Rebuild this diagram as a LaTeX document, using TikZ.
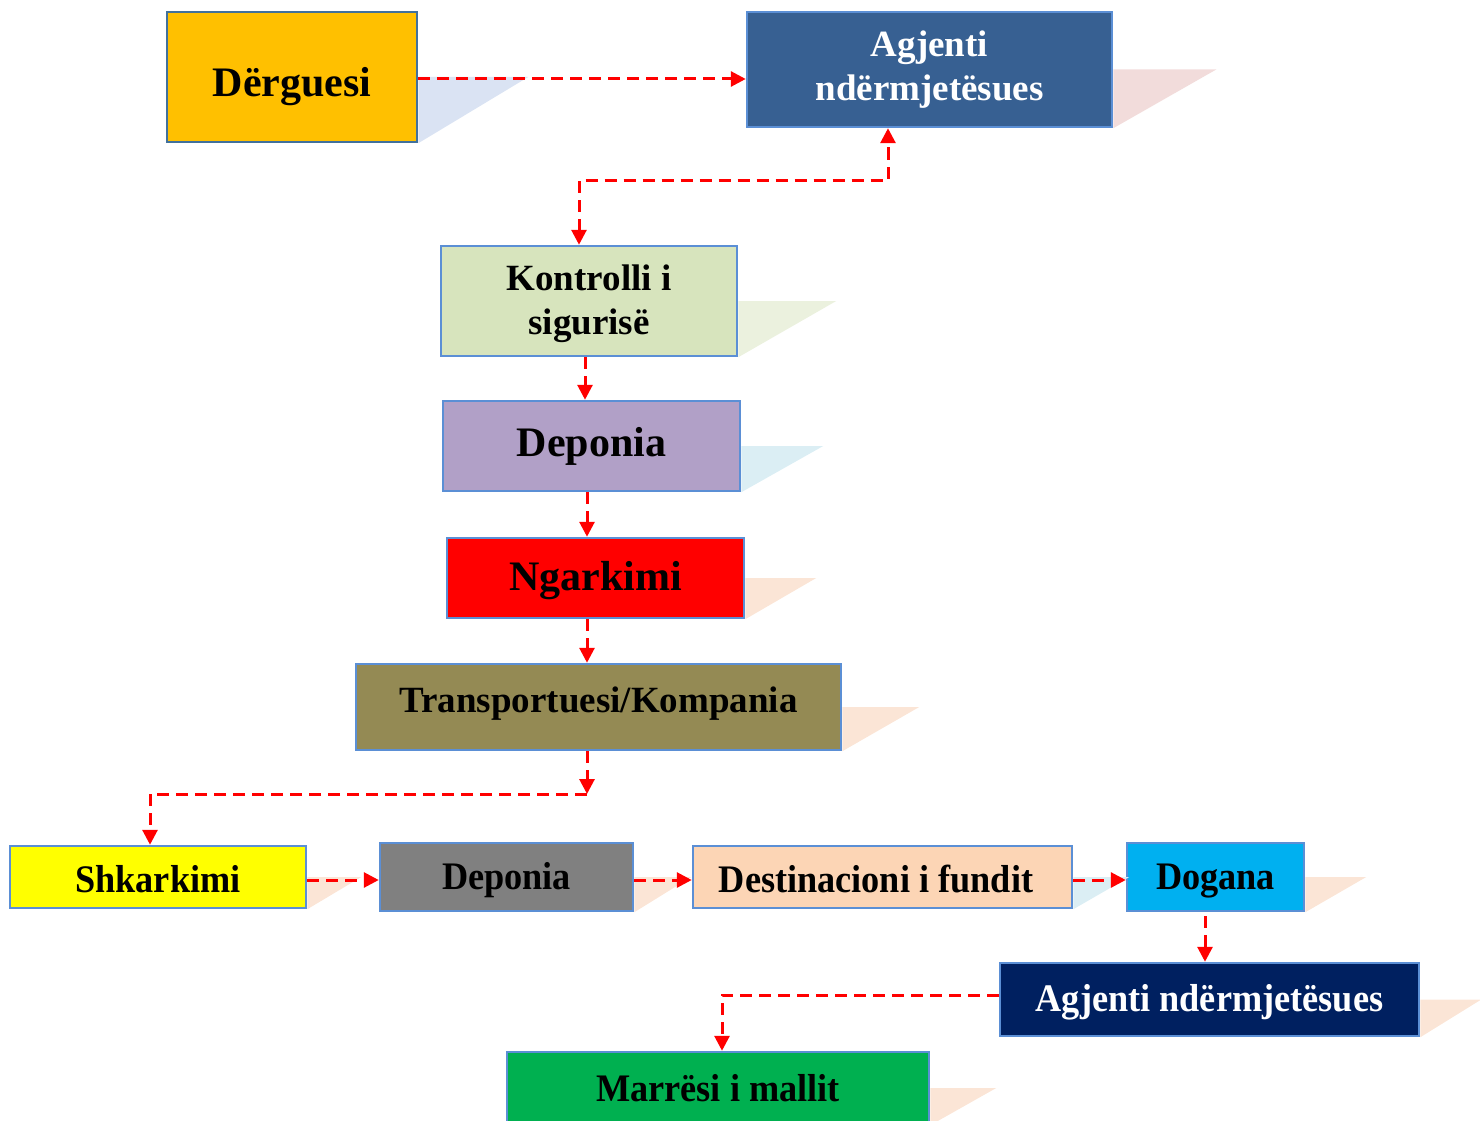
\documentclass[tikz,border=0pt]{standalone}
\usepackage{fontspec}
\setmainfont{Liberation Serif}
\newfontfamily\condfont[FakeStretch=0.93]{Liberation Serif}
\usetikzlibrary{arrows.meta,calc}
\definecolor{cDerg}{HTML}{FFC000}
\definecolor{cAgA}{HTML}{376092}
\definecolor{cKon}{HTML}{D7E4BD}
\definecolor{cDepA}{HTML}{B1A0C7}
\definecolor{cNgk}{HTML}{FF0000}
\definecolor{cTrn}{HTML}{948A54}
\definecolor{cShk}{HTML}{FFFF00}
\definecolor{cDepB}{HTML}{808080}
\definecolor{cDest}{HTML}{FCD5B5}
\definecolor{cDog}{HTML}{00B0F0}
\definecolor{cAgB}{HTML}{002060}
\definecolor{cMar}{HTML}{00B050}
\definecolor{bDark}{HTML}{41719C}
\definecolor{bLight}{HTML}{5B8FD5}
\definecolor{sBlue}{HTML}{DAE3F3}
\definecolor{sPink}{HTML}{F2DCDB}
\definecolor{sGreen}{HTML}{EBF1DE}
\definecolor{sCyan}{HTML}{DBEEF4}
\definecolor{sPeach}{HTML}{FBE5D6}
\tikzset{
  box/.style={draw=bLight, line width=2.5pt, rectangle, inner sep=0pt, align=center, font=\bfseries},
  big/.style={font=\fontsize{42}{44}\selectfont\bfseries},
  mid/.style={font=\fontsize{37}{44}\selectfont\bfseries},
  cond/.style={font=\fontsize{39}{44}\selectfont\condfont\bfseries},
  tip/.tip={Triangle[length=15pt,width=15pt]},
  conn/.style={draw=red, line width=3pt, dash pattern=on 12pt off 7pt, -tip},
  txt/.style={inner sep=0pt, align=center},
}
\newcommand{\shad}[3]{\fill[#3] (#1.east) -- ++(#2,0) -- (#1.south east) -- cycle;}
\begin{document}
\begin{tikzpicture}[x=1pt,y=-1pt]
\useasboundingbox (0,0) rectangle (1480,1121);
\clip (0,0) rectangle (1480,1121);
% boxes
\node[box, draw=bDark, fill=cDerg, minimum width=250pt, minimum height=130pt] (derg) at (292,77) {};
\node[txt, big] (dergT) at (292,87) {Dërguesi};
\node[box, mid, fill=cAgA, text=white, minimum width=365pt, minimum height=115pt] (agA) at (929.5,69.5) {Agjenti\\ndërmjetësues};
\node[box, fill=cKon, minimum width=296pt, minimum height=110pt] (kon) at (589,301) {};
\node[txt, mid] (konT) at (589,304) {Kontrolli i\\sigurisë};
\node[box, big, fill=cDepA, minimum width=297pt, minimum height=90pt] (depA) at (591.5,446) {Deponia};
\node[box, fill=cNgk, minimum width=297pt, minimum height=80pt] (ngk) at (595.5,578) {};
\node[txt, big] (ngkT) at (595.5,581) {Ngarkimi};
\node[box, fill=cTrn, minimum width=485pt, minimum height=86pt] (trn) at (598.5,707) {};
\node[txt, mid] (trnT) at (598.5,704) {Transportuesi/Kompania};
\node[box, cond, fill=cShk, minimum width=296pt, minimum height=62pt] (shk) at (158,877) {};
\node[txt, cond] (shkT) at (158,879) {Shkarkimi};
\node[box, fill=cDepB, minimum width=253pt, minimum height=68pt] (depB) at (506.5,877) {};
\node[txt, cond] (depBT) at (506.5,880) {Deponia};
\node[box, fill=cDest, minimum width=379pt, minimum height=62pt] (dest) at (882.5,877) {};
\node[txt, cond] (destT) at (876,879) {Destinacioni i fundit};
\node[box, fill=cDog, minimum width=177pt, minimum height=68pt] (dog) at (1215.5,877) {};
\node[txt, cond] (dogT) at (1215.5,881) {Dogana};
\node[box, fill=cAgB, minimum width=419pt, minimum height=73pt] (agB) at (1209.5,999.5) {};
\node[txt, cond, text=white] (agBT) at (1209.5,1002) {Agjenti ndërmjetësues};
\node[box, cond, fill=cMar, minimum width=422pt, minimum height=72pt] (mar) at (718,1088) {Marrësi i mallit};
% shadows
\shad{derg}{110}{sBlue}
\shad{agA}{103}{sPink}
\shad{kon}{98}{sGreen}
\shad{depA}{82}{sCyan}
\shad{ngk}{71}{sPeach}
\shad{trn}{77}{sPeach}
\shad{shk}{54}{sPeach}
\shad{depB}{57}{sPeach}
\shad{dest}{56}{sCyan}
\shad{dog}{61}{sPeach}
\shad{agB}{61}{sPeach}
\shad{mar}{66}{sPeach}
% connector helper coordinates
\coordinate (k1) at (579,180);
\coordinate (k2) at (888,180);
\coordinate (colA) at (585,0);
\coordinate (colB) at (587,0);
\coordinate (c2) at (587,794);
\coordinate (c3) at (150,794);
\coordinate (c4) at (1205,0);
\coordinate (c5) at (722,995);
\coordinate (r1) at (0,79);
\coordinate (r2) at (0,880);
% connectors
\draw[conn] (derg.east |- r1) -- (agA.west |- r1);
\draw[conn, tip-tip] (kon.north -| k1) -- (k1) -- (k2) -- (agA.south -| k2);
\draw[conn] (kon.south -| colA) -- (depA.north -| colA);
\draw[conn] (depA.south -| colB) -- (ngk.north -| colB);
\draw[conn] (ngk.south -| colB) -- (trn.north -| colB);
\draw[conn] (trn.south -| c2) -- (c2);
\draw[conn] (c2) -- (c3) -- (shk.north -| c3);
\draw[conn] (shk.east |- r2) -- (depB.west |- r2);
\draw[conn] (depB.east |- r2) -- (dest.west |- r2);
\draw[conn] (dest.east |- r2) -- (dog.west |- r2);
\draw[conn] ($(dog.south -| c4)+(0,4)$) -- (agB.north -| c4);
\draw[conn] (agB.west |- c5) -- (c5) -- (mar.north -| c5);
\end{tikzpicture}
\end{document}
